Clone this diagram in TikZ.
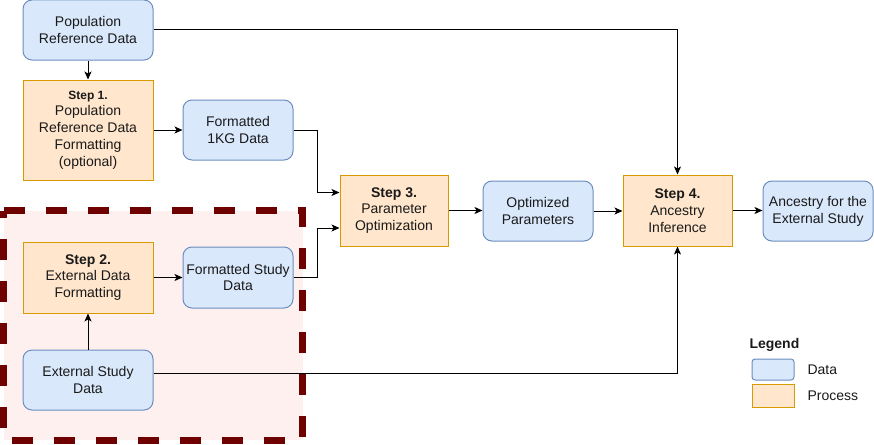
\documentclass[tikz,border=0pt]{standalone}
\usepackage{fontspec}
\setmainfont{Liberation Sans}
\usetikzlibrary{arrows.meta}

\definecolor{datafill}{HTML}{DAE8FC}
\definecolor{dataline}{HTML}{6C8EBF}
\definecolor{procfill}{HTML}{FFE6CC}
\definecolor{procline}{HTML}{D79B00}
\definecolor{zonefill}{HTML}{FFF0F0}
\definecolor{zoneline}{HTML}{6F0000}
\definecolor{txt}{HTML}{1A1A1A}

\tikzset{
  box/.style={inner sep=0pt, align=center, text=txt, line width=1pt,
    font=\fontsize{14}{16.8}\selectfont},
  databox/.style={box, draw=dataline, fill=datafill, rounded corners=9pt},
  procbox/.style={box, draw=procline, fill=procfill},
  arr/.style={draw=black, line width=1pt,
    -{Stealth[length=8pt,width=7pt,inset=2pt]}},
  legendbox/.style={line width=1pt, minimum width=42pt, inner sep=0pt},
}

\begin{document}
\begin{tikzpicture}[x=1pt,y=-1pt]
\useasboundingbox (0,0) rectangle (874,444);

% shaded zone holding the external-data steps
\fill[zonefill] (3.5,210.5) rectangle (302.5,440);

% data and process boxes
\node[databox, minimum width=130pt, minimum height=60pt] (pop) at (88,30)
  {Population\\Reference Data};
\node[procbox, minimum width=130pt, minimum height=100pt] (step1) at (88,130)
  {{\fontsize{12}{16}\selectfont\bfseries Step 1.}\\Population\\Reference Data\\Formatting\\(optional)};
\node[databox, minimum width=110pt, minimum height=60pt] (kg) at (238,130)
  {Formatted\\1KG Data};
\node[procbox, minimum width=130pt, minimum height=71pt] (step2) at (88,277.5)
  {\bfseries Step 2.\\External Data\\Formatting};
\node[databox, minimum width=110pt, minimum height=61pt] (study) at (238,277.5)
  {Formatted Study\\Data};
\node[databox, minimum width=130pt, minimum height=60pt] (ext) at (88,380)
  {External Study\\Data};
\node[procbox, minimum width=108pt, minimum height=71pt] (step3) at (394,210.5)
  {\bfseries Step 3.\\Parameter\\Optimization};
\node[databox, minimum width=110pt, minimum height=60pt] (opt) at (538,211)
  {Optimized\\Parameters};
\node[procbox, minimum width=109pt, minimum height=71pt] (step4) at (677.5,210.5)
  {\bfseries Step 4.\\Ancestry\\Inference};
\node[databox, minimum width=110pt, minimum height=60pt] (anc) at (818,211)
  {Ancestry for the\\External Study};

% connectors
\draw[arr] (pop.south) -- (step1.north);
\draw[arr] (pop.east) -| (step4.north);
\draw[arr] (step1.east) -- (kg.west);
\draw[arr] (kg.east) -- ++(24,0) |- ([yshift=18pt]step3.west);
\draw[arr] (study.east) -- ++(24,0) |- ([yshift=-17.5pt]step3.west);
\draw[arr] (step2.east) -- (study.west);
\draw[arr] (ext.north) -- (step2.south);
\draw[arr] ([yshift=7pt]ext.east) -| (step4.south);
\draw[arr] (step3.east) -- (step3.east -| opt.west);
\draw[arr] (opt.east) -- (opt.east -| step4.west);
\draw[arr] (step4.east) -- (step4.east -| anc.west);

% dashed border of the zone
\draw[zoneline, line width=7pt, dash pattern=on 21pt off 21pt]
  (3.5,210.5) -- (302.5,210.5) -- (302.5,440) -- (3.5,440) -- cycle;

% legend
\node[anchor=west, text=txt, font=\fontsize{14}{16.8}\selectfont\bfseries] (legtitle) at (746,345) {Legend};
\node[legendbox, draw=dataline, fill=datafill, rounded corners=3pt, minimum height=21pt] (legdata) at (773,369.5) {};
\node[legendbox, draw=procline, fill=procfill, minimum height=23pt] (legproc) at (773,395.5) {};
\node[anchor=west, text=txt, font=\fontsize{14}{16.8}\selectfont] (legdatatext) at (804,369.5) {Data};
\node[anchor=west, text=txt, font=\fontsize{14}{16.8}\selectfont] (legproctext) at (804,395.5) {Process};
\end{tikzpicture}
\end{document}
